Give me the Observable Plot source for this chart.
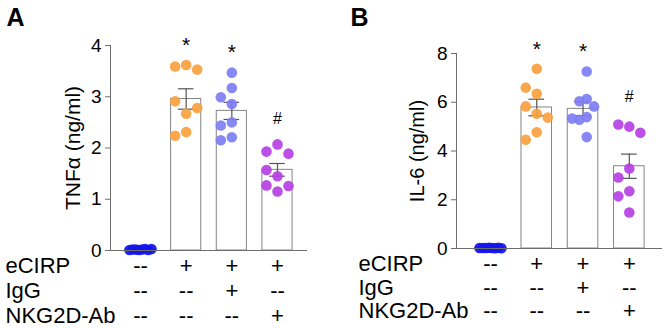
<!DOCTYPE html>
<html>
<head>
<meta charset="utf-8">
<script src="https://cdn.jsdelivr.net/npm/d3@7"></script>
<script src="https://cdn.jsdelivr.net/npm/@observablehq/plot@0.6"></script>
<style>
  html, body { margin: 0; padding: 0; background: #fff; }
  #wrap { display: flex; width: 666px; height: 328px; overflow: hidden; }
  #wrap svg { flex: none; }
</style>
</head>
<body>
<div id="wrap"></div>
<script>
// ---- data ----
const groups = ["Control", "eCIRP", "eCIRP + IgG", "eCIRP + NKG2D-Ab"];
const rowLabels = ["eCIRP", "IgG", "NKG2D-Ab"];
const eCIRPRow = ["--", "+", "+", "+"];
const igGRow = ["--", "--", "+", "--"];
const nkg2dRow = ["--", "--", "--", "+"];
const sigMarks = ["", "*", "*", "#"];

const tnfControl = [0.02, 0.01, 0.03, 0.02, 0.01, 0.02, 0.03, 0.01];
const tnfECIRP = [3.62, 3.59, 3.53, 2.67, 2.91, 2.78, 2.31, 2.24];
const tnfIgG = [3.47, 3.17, 2.99, 2.86, 2.50, 2.44, 2.21, 2.15];
const tnfNKG2D = [2.07, 1.93, 1.89, 1.45, 1.57, 1.27, 1.26, 1.15];

const il6Control = [0.02, 0.03, 0.01, 0.02, 0.03, 0.02, 0.01, 0.02];
const il6ECIRP = [7.37, 6.35, 6.60, 5.53, 5.83, 5.37, 4.77, 4.46];
const il6IgG = [7.26, 6.13, 6.04, 5.83, 5.39, 5.28, 5.33, 4.57];
const il6NKG2D = [5.00, 5.09, 4.75, 3.28, 2.91, 2.35, 2.14, 1.48];

const tnfTicks = [0, 1, 2, 3, 4];
const il6Ticks = [0, 2, 4, 6, 8];

// ---- styles ----
const FONT = "'Liberation Sans', Arial, Helvetica, sans-serif";
const colors = ["#1515F2", "#F9A13F", "#7E7EF4", "#B540E4"];
const axisColor = "#6e6e6e";

// simple column dodge for the scatter points
function swarm(vals, pyPerUnit, pxPerUnitX) {
  const gap = 13, col = 11, maxSpan = 22;
  const order = [0, -1, 1, -2, 2, -3, 3, -4, 4, -5, 5, -6, 6];
  const placed = [];
  for (const v of vals) {
    for (const s of order) {
      if (!placed.some(p => p.s === s && Math.abs(p.v - v) * pyPerUnit < gap)) {
        placed.push({v, s});
        break;
      }
    }
  }
  const lo = d3.min(placed, p => p.s), hi = d3.max(placed, p => p.s);
  let spacing = col, mid = 0;
  if ((hi - lo) * col > maxSpan) { spacing = maxSpan / (hi - lo); mid = (hi + lo) / 2; }
  return placed.map(p => ({v: p.v, off: (p.s - mid) * spacing / pxPerUnitX}));
}

function panel(o) {
  const W = 333, H = 328;
  const sx = (W - o.ml - o.mr) / (o.xDomain[1] - o.xDomain[0]);
  const sy = (H - o.mt - o.mb) / o.yMax;
  const bars = [], points = [];
  o.series.forEach((vals, i) => {
    const m = d3.mean(vals);
    const se = d3.deviation(vals) / Math.sqrt(vals.length);
    bars.push({
      i, group: groups[i], mean: m, lo: m - se, hi: m + se, max: d3.max(vals),
      sig: sigMarks[i], rows: [eCIRPRow[i], igGRow[i], nkg2dRow[i]].join("\n"),
      color: colors[i]
    });
    swarm(vals, sy, sx).forEach(p => points.push({i, v: p.v, x: i + p.off, color: colors[i]}));
  });
  const err = bars.filter(d => d.i > 0);
  return Plot.plot({
    width: W, height: H,
    marginLeft: o.ml, marginRight: o.mr, marginTop: o.mt, marginBottom: o.mb,
    style: {fontFamily: FONT, color: "#000", background: "#fff", overflow: "visible"},
    x: {domain: o.xDomain, axis: null},
    y: {domain: [0, o.yMax], axis: null},
    color: {type: "identity"},
    marks: [
      Plot.rect(bars, {x1: d => d.i - 0.33, x2: d => d.i + 0.33, y1: () => 0, y2: "mean",
        fill: "white", stroke: "#858585", strokeWidth: 1}),
      Plot.ruleX(err, {x: "i", y1: "lo", y2: "hi", stroke: "#555", strokeWidth: 1.2}),
      Plot.ruleY(err, {y: "hi", x1: d => d.i - 0.17, x2: d => d.i + 0.17, stroke: "#555", strokeWidth: 1.2}),
      Plot.ruleY(err, {y: "lo", x1: d => d.i - 0.17, x2: d => d.i + 0.17, stroke: "#555", strokeWidth: 1.2}),
      Plot.dot(points, {x: "x", y: "v", r: 5.3, fill: "color", fillOpacity: 0.92}),
      Plot.ruleY([0], {stroke: axisColor, strokeWidth: 1}),
      Plot.ruleX([o.xDomain[0]], {y1: () => 0, y2: () => o.yMax, stroke: axisColor, strokeWidth: 1}),
      Plot.axisY({ticks: o.ticks, tickFormat: d3.format("d"), tickSize: 5, tickPadding: 4,
        fontSize: 19, label: null, stroke: axisColor, fill: "#000"}),
      Plot.text([o.yLabel], {frameAnchor: "left", rotate: -90, textAnchor: "middle",
        lineAnchor: "bottom", dx: o.labelDx, fontSize: o.labelSize, fill: "#000"}),
      Plot.text(bars.filter(d => d.sig === "*"), {x: "i", y: "max", text: "sig", dy: -20,
        lineAnchor: "middle", fontSize: 21, fill: "#000"}),
      Plot.text(bars.filter(d => d.sig === "#"), {x: "i", y: "max", text: "sig", dy: o.hashDy,
        lineAnchor: "middle", fontSize: 16, fill: "#000"}),
      Plot.text([rowLabels.join("\n")], {frameAnchor: "bottom-left", textAnchor: "start",
        lineAnchor: "top", dx: o.rowDx, dy: o.rowDy, lineHeight: o.lh, fontSize: 22, fill: "#000"}),
      Plot.text(bars, {x: "i", frameAnchor: "bottom", text: "rows", textAnchor: "middle",
        lineAnchor: "top", dy: o.rowDy, lineHeight: o.lh, fontSize: 22, fill: "#000"}),
      Plot.text([o.letter], {frameAnchor: "top-left", textAnchor: "start", lineAnchor: "top",
        dx: o.letterDx, dy: o.letterDy, fontSize: 25, fontWeight: "bold", fill: "#000"})
    ]
  });
}

const wrap = document.getElementById("wrap");
wrap.append(panel({
  letter: "A", yLabel: "TNFα (ng/ml)", yMax: 4, ticks: tnfTicks, labelSize: 21,
  series: [tnfControl, tnfECIRP, tnfIgG, tnfNKG2D],
  ml: 110, mr: 26, mt: 45, mb: 78, xDomain: [-0.657, 3.657],
  labelDx: -31, rowDx: -105, rowDy: 5, lh: 1.13, letterDx: -104, letterDy: -37, hashDy: -26
}));
wrap.append(panel({
  letter: "B", yLabel: "IL-6 (ng/ml)", yMax: 8, ticks: il6Ticks, labelSize: 20,
  series: [il6Control, il6ECIRP, il6IgG, il6NKG2D],
  ml: 123, mr: 4, mt: 53, mb: 80, xDomain: [-0.734, 3.717],
  labelDx: -33, rowDx: -98, rowDy: 6.5, lh: 1.05, letterDx: -106, letterDy: -45, hashDy: -28
}));
</script>
</body>
</html>
